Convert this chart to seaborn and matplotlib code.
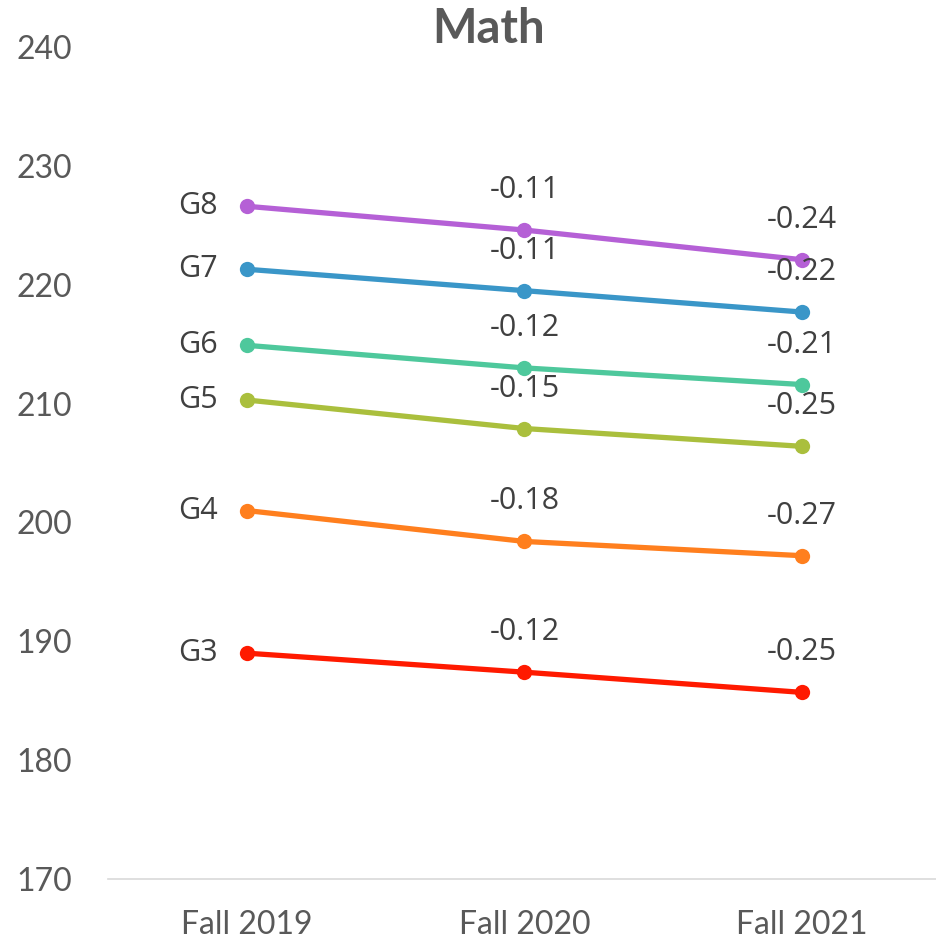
import matplotlib
matplotlib.use("Agg")
import matplotlib.pyplot as plt
import seaborn as sns
import pandas as pd

# 데이터
terms = ["Fall 2019", "Fall 2020", "Fall 2021"]
grades = ["G3", "G4", "G5", "G6", "G7", "G8"]
g3 = [189.0, 187.4, 185.7]
g4 = [201.0, 198.4, 197.2]
g5 = [210.3, 207.9, 206.4]
g6 = [214.9, 213.0, 211.6]
g7 = [221.3, 219.5, 217.7]
g8 = [226.6, 224.6, 222.1]
# 2020, 2021 변화량 라벨
diff_g3 = ["-0.12", "-0.25"]
diff_g4 = ["-0.18", "-0.27"]
diff_g5 = ["-0.15", "-0.25"]
diff_g6 = ["-0.12", "-0.21"]
diff_g7 = ["-0.11", "-0.22"]
diff_g8 = ["-0.11", "-0.24"]
y_ticks = [170, 180, 190, 200, 210, 220, 230, 240]

colors = {"G3": "#FF1A00", "G4": "#FF7F1E", "G5": "#AABF3D",
          "G6": "#4EC89C", "G7": "#3A96C8", "G8": "#B560D6"}

values = [g3, g4, g5, g6, g7, g8]
diffs = [diff_g3, diff_g4, diff_g5, diff_g6, diff_g7, diff_g8]

rows = []
for g, vals in zip(grades, values):
    for i, (t, v) in enumerate(zip(terms, vals)):
        rows.append({"grade": g, "term": t, "x": i, "score": v})
df = pd.DataFrame(rows)

sns.set_style("white")
plt.rcParams['font.family'] = ['Lato', 'DejaVu Sans']

W, H = 937, 943
fig = plt.figure(figsize=(W / 100, H / 100), dpi=100)
ax = fig.add_axes([108 / W, (H - 879) / H, 833 / W, 832 / H])

sns.lineplot(data=df, x="x", y="score", hue="grade", palette=colors,
             marker="o", markersize=11, markeredgewidth=0, linewidth=3.8,
             legend=False, ax=ax)

ax.set_xlim(-0.5, 2.5)
ax.set_ylim(170, 240)
ax.set_xticks(range(len(terms)))
ax.set_xticklabels(terms)
ax.set_yticks(y_ticks)
ax.set_xlabel("")
ax.set_ylabel("")
ax.tick_params(axis="both", length=0, labelsize=23, labelcolor="#595959")
ax.tick_params(axis="y", pad=26)
ax.tick_params(axis="x", pad=22)
for s in ["top", "right", "left"]:
    ax.spines[s].set_visible(False)
ax.spines["bottom"].set_color("#D9D9D9")
ax.spines["bottom"].set_linewidth(1.2)
ax.grid(False)

# 라벨
for g, vals, d in zip(grades, values, diffs):
    ax.annotate(g, (0, vals[0]), xytext=(-29, 0), textcoords="offset pixels",
                ha="right", va="center", fontsize=22, color="#404040",
                family=["Open Sans", "DejaVu Sans"])
    for i, lab in enumerate(d, start=1):
        ax.annotate(lab, (i, vals[i]), xytext=(0, 40), textcoords="offset pixels",
                    ha="center", va="center", fontsize=22, color="#404040",
                    family=["Open Sans", "DejaVu Sans"])

fig.text(489 / W, 1 - 29 / H, "Math", ha="center", va="center",
         fontsize=34, fontweight="bold", color="#595959")

fig.savefig("out.png", dpi=100)
